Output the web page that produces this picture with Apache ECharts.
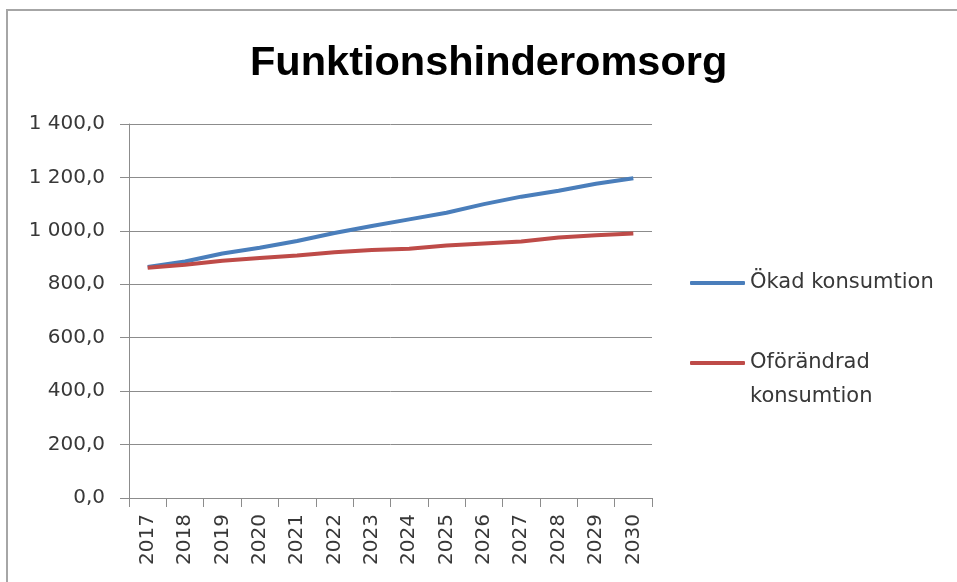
<!DOCTYPE html>
<html>
<head>
<meta charset="utf-8">
<script src="https://cdn.jsdelivr.net/npm/echarts@6/dist/echarts.min.js"></script>
<style>
html,body{margin:0;padding:0;background:#fff;}
#chart{width:957px;height:582px;}
</style>
</head>
<body>
<div id="chart"></div>
<script>
const titleText = 'Funktionshinderomsorg';
const years = ['2017','2018','2019','2020','2021','2022','2023','2024','2025','2026','2027','2028','2029','2030'];
const seriesNames = ['Ökad konsumtion', 'Oförändrad konsumtion'];
const okadValues = [865, 885, 915, 937, 962, 992, 1018, 1043, 1068, 1100, 1128, 1150, 1176, 1197];
const oforandradValues = [862, 873, 888, 898, 908, 920, 928, 933, 945, 953, 960, 975, 984, 990];
const yTicks = [0, 200, 400, 600, 800, 1000, 1200, 1400];

function fmt(v) {
  const s = v.toFixed(1).replace('.', ',');
  const parts = s.split(',');
  const intPart = parts[0].replace(/\B(?=(\d{3})+(?!\d))/g, ' ');
  return intPart + ',' + parts[1];
}

const labelFont = 'DejaVu Sans';
const chart = echarts.init(document.getElementById('chart'));
chart.setOption({
  animation: false,
  backgroundColor: '#fff',
  graphic: [{
    type: 'rect',
    shape: { x: 7, y: 10, width: 1200, height: 1000 },
    style: { fill: 'none', stroke: '#a6a6a6', lineWidth: 2 },
    silent: true
  }],
  title: {
    text: titleText,
    left: 245,
    top: 38,
    textStyle: { fontFamily: 'Liberation Sans', fontWeight: 'bold', fontSize: 41.5, color: '#000' }
  },
  grid: { left: 129, right: 305, top: 124, bottom: 84, containLabel: false },
  xAxis: {
    type: 'category',
    data: years,
    boundaryGap: true,
    axisLine: { lineStyle: { color: '#8c8c8c', width: 1 } },
    axisTick: { show: true, length: 9, alignWithLabel: false, lineStyle: { color: '#8c8c8c' } },
    axisLabel: { rotate: 90, margin: 16, fontFamily: labelFont, fontSize: 20, color: '#383838', interval: 0 },
    splitLine: { show: false }
  },
  yAxis: {
    type: 'value',
    min: yTicks[0],
    max: yTicks[yTicks.length - 1],
    interval: 200,
    axisLine: { show: true, lineStyle: { color: '#8c8c8c', width: 1 } },
    axisTick: { show: true, length: 9, lineStyle: { color: '#8c8c8c' } },
    axisLabel: { margin: 24, fontFamily: labelFont, fontSize: 20, color: '#383838', formatter: fmt },
    splitLine: { show: true, lineStyle: { color: '#8c8c8c', width: 1 } }
  },
  legend: [{
    orient: 'vertical',
    left: 690,
    top: 266,
    padding: 0,
    icon: 'roundRect',
    itemWidth: 55,
    itemHeight: 4,
    itemGap: 5,
    data: [seriesNames[0]],
    textStyle: { fontFamily: labelFont, fontSize: 21, color: '#383838', lineHeight: 34 }
  }, {
    orient: 'vertical',
    left: 690,
    top: 312,
    padding: 0,
    icon: 'roundRect',
    itemWidth: 55,
    itemHeight: 4,
    itemGap: 5,
    data: [seriesNames[1]],
    formatter: function (n) { return ' \n' + n.replace(' ', '\n'); },
    textStyle: { fontFamily: labelFont, fontSize: 21, color: '#383838', lineHeight: 34 }
  }],
  series: [{
    name: seriesNames[0],
    type: 'line',
    data: okadValues,
    showSymbol: false,
    symbol: 'none',
    lineStyle: { color: '#4a7ebb', width: 4 },
    itemStyle: { color: '#4a7ebb' }
  }, {
    name: seriesNames[1],
    type: 'line',
    data: oforandradValues,
    showSymbol: false,
    symbol: 'none',
    lineStyle: { color: '#be4b48', width: 4 },
    itemStyle: { color: '#be4b48' }
  }]
});
</script>
</body>
</html>
